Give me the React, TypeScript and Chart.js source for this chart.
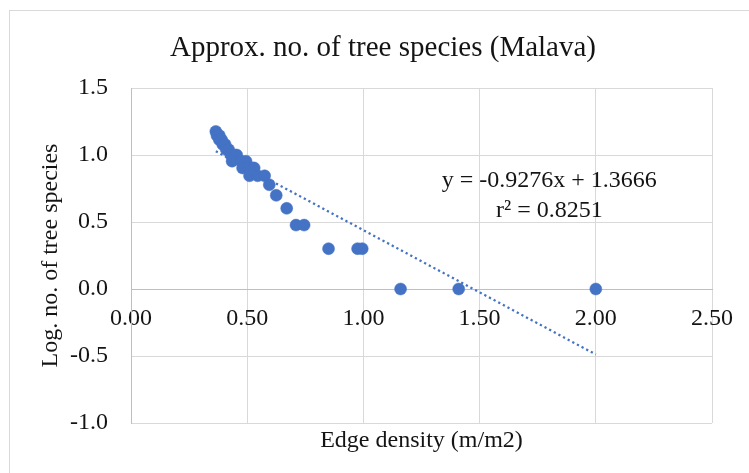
import React, { useEffect, useRef } from "react";
import { Chart, registerables } from "chart.js";

Chart.register(...registerables);

// ---- data ----
const edgeDensity = [
  0.365, 0.37, 0.38, 0.38, 0.39, 0.395, 0.405, 0.41, 0.42, 0.43, 0.445, 0.455,
  0.435, 0.475, 0.495, 0.48, 0.51, 0.525, 0.53, 0.51, 0.545, 0.575, 0.595,
  0.625, 0.67, 0.71, 0.745, 0.85, 0.975, 0.995, 1.16, 1.41, 2.0,
];
const logSpecies = [
  1.176, 1.146, 1.146, 1.114, 1.114, 1.079, 1.079, 1.041, 1.041, 1.0, 1.0, 1.0,
  0.954, 0.954, 0.954, 0.903, 0.903, 0.903, 0.903, 0.845, 0.845, 0.845, 0.778,
  0.699, 0.602, 0.477, 0.477, 0.301, 0.301, 0.301, 0, 0, 0,
];
const trendSlope = -0.9276;
const trendIntercept = 1.3666;
const trendR2 = 0.8251;

const chartTitle = "Approx. no. of tree species (Malava)";
const xAxisTitle = "Edge density (m/m2)";
const yAxisTitle = "Log. no. of tree species";

// label anchor (in data units)
const labelAnchorX = 1.8;
const labelAnchorY = 0.81;

const FONT = "'Liberation Serif', 'Times New Roman', serif";
const TEXT = "#141414";
const BLUE = "#4472C4";
const GRID = "#d9d9d9";
const AXIS = "#bfbfbf";

export default function App() {
  const ref = useRef<HTMLCanvasElement | null>(null);

  useEffect(() => {
    if (!ref.current) return;
    const pts = edgeDensity.map((x, i) => ({ x, y: logSpecies[i] }));
    const minX = Math.min(...edgeDensity);
    const maxX = Math.max(...edgeDensity);
    const trend = [
      { x: minX, y: trendIntercept + trendSlope * minX },
      { x: maxX, y: trendIntercept + trendSlope * maxX },
    ];

    const framePlugin = {
      id: "frame",
      beforeDraw(chart: any) {
        const { ctx, width, height } = chart;
        ctx.save();
        ctx.fillStyle = "#ffffff";
        ctx.fillRect(0, 0, width, height);
        ctx.strokeStyle = GRID;
        ctx.lineWidth = 1;
        ctx.strokeRect(0.5, 0.5, width - 1, height + 10);
        ctx.restore();
      },
    };

    const eqPlugin = {
      id: "eq",
      afterDatasetsDraw(chart: any) {
        const { ctx } = chart;
        const xs = chart.scales.x;
        const ys = chart.scales.y;
        const cx = xs.getPixelForValue(labelAnchorX);
        const cy = ys.getPixelForValue(labelAnchorY);
        ctx.save();
        ctx.fillStyle = TEXT;
        ctx.font = `24px ${FONT}`;
        ctx.textAlign = "center";
        ctx.textBaseline = "middle";
        const sign = trendIntercept >= 0 ? "+" : "-";
        ctx.fillText(
          `y = ${trendSlope.toFixed(4)}x ${sign} ${Math.abs(trendIntercept).toFixed(4)}`,
          cx,
          cy
        );
        ctx.fillText(`r\u00B2 = ${trendR2.toFixed(4)}`, cx, cy + 30);
        ctx.restore();
      },
    };

    const chart = new Chart(ref.current, {
      type: "scatter",
      data: {
        datasets: [
          {
            label: "data",
            data: pts,
            backgroundColor: BLUE,
            borderColor: BLUE,
            borderWidth: 0.5,
            pointRadius: 6,
            order: 0,
          },
          {
            label: "trend",
            data: trend,
            showLine: true,
            borderColor: BLUE,
            borderWidth: 2.25,
            borderDash: [2.25, 3],
            pointRadius: 0,
            fill: false,
            order: 1,
          } as any,
        ],
      },
      options: {
        animation: false,
        responsive: true,
        maintainAspectRatio: false,
        layout: { padding: { left: 0, right: 0, top: 0, bottom: 0 } },
        plugins: {
          legend: { display: false },
          tooltip: { enabled: false },
          title: {
            display: true,
            text: chartTitle,
            color: TEXT,
            font: { family: FONT, size: 29, weight: "normal" },
            padding: { top: 21, bottom: 22.2 },
          },
        },
        scales: {
          x: {
            type: "linear",
            position: { y: 0 } as any,
            min: 0,
            max: 2.5,
            ticks: {
              stepSize: 0.5,
              callback: (v: any) => Number(v).toFixed(2),
              color: TEXT,
              font: { family: FONT, size: 24 },
              padding: 15,
              maxRotation: 0,
              autoSkip: false,
            },
            grid: { color: GRID, drawTicks: false },
            border: { color: AXIS },
          },
          x2: {
            type: "linear",
            position: "bottom",
            min: 0,
            max: 2.5,
            grid: { display: false, drawTicks: false },
            ticks: { display: false },
            border: { display: false },
            title: {
              display: true,
              text: xAxisTitle,
              color: TEXT,
              font: { family: FONT, size: 24 },
              padding: { top: 0, bottom: 18 },
            },
            afterFit: (s: any) => {
              s.height = 50;
            },
          },
          y: {
            type: "linear",
            min: -1,
            max: 1.5,
            ticks: {
              stepSize: 0.5,
              callback: (v: any) => Number(v).toFixed(1),
              color: TEXT,
              font: { family: FONT, size: 24 },
              padding: 23,
            },
            grid: { color: GRID, drawTicks: false },
            border: { color: AXIS },
            title: {
              display: true,
              text: yAxisTitle,
              color: TEXT,
              font: { family: FONT, size: 24 },
              padding: { top: 27, bottom: 0 },
            },
            afterFit: (s: any) => {
              s.width = 122;
            },
          },
          yRight: {
            type: "linear",
            position: "right",
            min: -1,
            max: 1.5,
            grid: { display: false, drawTicks: false },
            ticks: { display: false },
            border: { display: false },
            afterFit: (s: any) => {
              s.width = 45;
            },
          },
        },
      } as any,
      plugins: [framePlugin, eqPlugin],
    });
    return () => chart.destroy();
  }, []);

  return (
    <div
      style={{
        position: "fixed",
        left: 0,
        top: 0,
        width: 749,
        height: 473,
        overflow: "hidden",
        background: "#ffffff",
      }}
    >
      <div style={{ position: "absolute", left: 9, top: 10, width: 748, height: 463 }}>
        <canvas ref={ref} />
      </div>
    </div>
  );
}
